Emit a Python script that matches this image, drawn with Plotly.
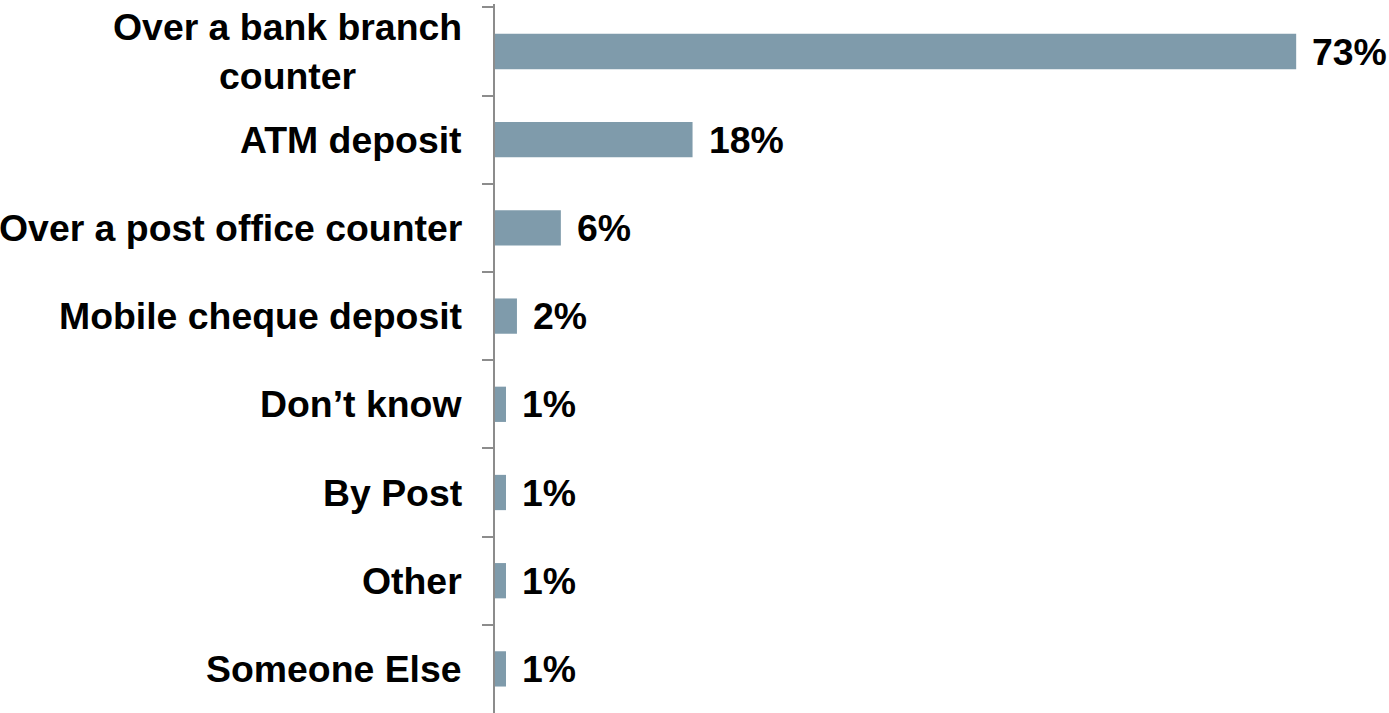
import plotly.graph_objects as go

# Survey: how cheques are paid in
categories = [
    "Over a bank branch<br>counter",
    "ATM deposit",
    "Over a post office counter",
    "Mobile cheque deposit",
    "Don’t know",
    "By Post",
    "Other",
    "Someone Else",
]
values = [73, 18, 6, 2, 1, 1, 1, 1]

BAR_COLOR = "#7F9BAB"
AXIS_COLOR = "#8C8C8C"
FONT = "Liberation Sans, Arial, sans-serif"
FONT_SIZE = 37.4

fig = go.Figure(
    go.Bar(
        x=values,
        y=categories,
        orientation="h",
        marker=dict(color=BAR_COLOR, line=dict(width=0)),
        hoverinfo="skip",
    )
)

# Value labels to the right of each bar
for cat, val in zip(categories, values):
    fig.add_annotation(
        x=val, y=cat, xref="x", yref="y",
        text=f"<b>{val}%</b>",
        showarrow=False, xanchor="left", yanchor="middle",
        xshift=14,
        font=dict(family=FONT, size=FONT_SIZE, color="#000000"),
    )

# Category labels, centred line by line, right of the axis
for cat in categories:
    fig.add_annotation(
        x=0, y=cat, xref="paper", yref="y",
        text=f"<b>{cat}</b>",
        showarrow=False, xanchor="right", yanchor="middle",
        align="center", xshift=-31,
        font=dict(family=FONT, size=FONT_SIZE, color="#000000"),
    )

fig.update_layout(
    width=1389,
    height=713,
    margin=dict(l=495, r=16, t=4, b=0),
    paper_bgcolor="white",
    plot_bgcolor="white",
    showlegend=False,
    bargap=0.6,
    xaxis=dict(
        range=[0, 80],
        visible=False,
        showgrid=False,
        zeroline=False,
    ),
    yaxis=dict(
        autorange="reversed",
        showticklabels=False,
        showgrid=False,
        zeroline=False,
        showline=True,
        linecolor=AXIS_COLOR,
        linewidth=2,
        ticks="outside",
        tickson="boundaries",
        ticklen=11,
        tickwidth=2,
        tickcolor=AXIS_COLOR,
    ),
)

fig.write_html("out.html")
